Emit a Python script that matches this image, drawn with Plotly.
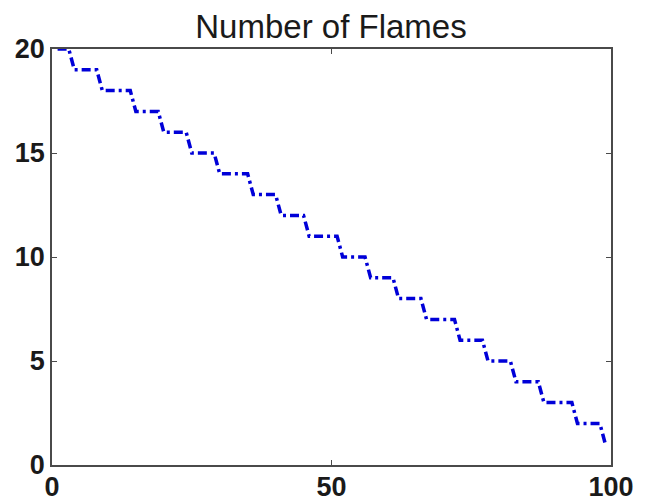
import numpy as np
import plotly.graph_objects as go

# Number of flames (levels) and the iteration where each level begins
levels = [20, 19, 18, 17, 16, 15, 14, 13, 12, 11, 10, 9, 8, 7, 6, 5, 4, 3, 2, 1]
level_start = [1, 4, 9, 15, 20, 25, 30, 36, 41, 46, 52, 57, 62, 67, 73, 78, 83, 88, 94, 99]
last_iter = 99

x_ticks = [0, 50, 100]
y_ticks = [0, 5, 10, 15, 20]

iters = np.arange(1, last_iter + 1)
ends = level_start[1:] + [last_iter + 1]
flames = np.concatenate([[lv] * (e - s) for lv, s, e in zip(levels, level_start, ends)])

fig = go.Figure()
fig.add_trace(go.Scatter(
    x=iters, y=flames, mode="lines",
    line=dict(color="#0000d8", width=3.5, dash="9px,4px,3px,4px"),
    showlegend=False,
))

axis_common = dict(
    showline=True, linecolor="#4a4a4a", linewidth=1.5, mirror="ticks",
    ticks="inside", ticklen=5, tickwidth=1.2, tickcolor="#4a4a4a",
    showgrid=False, zeroline=False, automargin=False,
    tickfont=dict(family="Liberation Sans, Arial, sans-serif", size=27, color="#1a1a1a", weight="bold"),
)

fig.update_layout(
    width=646, height=501,
    margin=dict(l=52, r=35, t=49, b=36),
    paper_bgcolor="white", plot_bgcolor="white",
    title=dict(
        text="Number of Flames",
        font=dict(family="Liberation Sans, Arial, sans-serif", size=33, color="#1a1a1a"),
        x=331 / 646, xanchor="center", y=1 - 26 / 501, yanchor="middle",
    ),
    xaxis=dict(range=[0, 100], tickvals=x_ticks, ticklabelstandoff=-3, **axis_common),
    yaxis=dict(range=[0, 20], tickvals=y_ticks, ticklabelstandoff=0, **axis_common),
)

fig.write_html(
    "out.html",
    config={"displayModeBar": False},
    post_script="document.body.style.margin='0';document.body.style.padding='0';document.body.style.overflow='hidden';",
)
